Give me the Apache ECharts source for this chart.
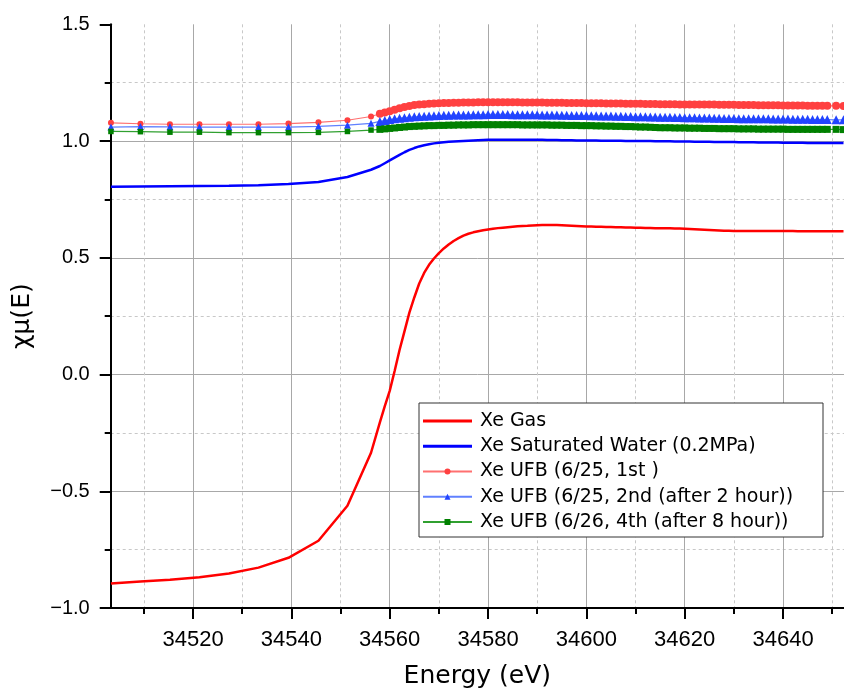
<!DOCTYPE html>
<html>
<head>
<meta charset="utf-8">
<script src="https://cdn.jsdelivr.net/npm/echarts@6/dist/echarts.min.js"></script>
<style>html,body{margin:0;padding:0;background:#fff;overflow:hidden;}#c{width:844px;height:694px;}</style>
</head>
<body>
<div id="c"></div>
<script>
// ---- data ----
const energy = [34503.3, 34509.3, 34515.3, 34521.3, 34527.3, 34533.3, 34539.4, 34545.5, 34551.4, 34556.2,
  34558, 34559, 34560, 34561, 34562, 34563, 34564, 34565, 34566, 34567, 34568, 34569, 34570, 34571, 34572, 34573, 34574, 34575, 34576, 34577, 34578, 34579, 34580,
  34581, 34582, 34583, 34584, 34585, 34586, 34587, 34588, 34589, 34590,
  34591, 34592, 34593, 34594, 34595, 34596, 34597, 34598, 34599, 34600,
  34601, 34602, 34603, 34604, 34605, 34606, 34607, 34608, 34609, 34610, 34611, 34612, 34613, 34614, 34615,
  34616, 34617, 34618, 34619, 34620, 34621, 34622, 34623, 34624, 34625, 34626, 34627, 34628, 34629, 34630, 34631, 34632, 34633, 34634, 34635, 34636,
  34637, 34638, 34639, 34640, 34641, 34642, 34643, 34644, 34645, 34646, 34647, 34648, 34649,
  34650.8, 34652.3];

const gasMu = [-0.895, -0.887, -0.879, -0.868, -0.852, -0.827, -0.785, -0.712, -0.562, -0.335,
  -0.205, -0.135, -0.070, 0.015, 0.105, 0.185, 0.265, 0.330, 0.390, 0.435, 0.470, 0.497, 0.520, 0.540, 0.557, 0.572, 0.584, 0.595, 0.603, 0.609, 0.614, 0.618, 0.621,
  0.624, 0.627, 0.629, 0.631, 0.633, 0.635, 0.636, 0.637, 0.638, 0.639,
  0.640, 0.640, 0.640, 0.640, 0.639, 0.638, 0.637, 0.636, 0.635, 0.634,
  0.634, 0.633, 0.633, 0.632, 0.632, 0.631, 0.631, 0.630, 0.630, 0.629, 0.629, 0.628, 0.628, 0.627, 0.627,
  0.626, 0.626, 0.625, 0.625, 0.624, 0.623, 0.622, 0.621, 0.620, 0.619, 0.618, 0.617, 0.616, 0.616, 0.615, 0.615, 0.615, 0.615, 0.615, 0.615, 0.615,
  0.615, 0.615, 0.615, 0.615, 0.615, 0.615, 0.614, 0.614, 0.614, 0.614, 0.614, 0.614, 0.614,
  0.614, 0.614];

const waterMu = [0.804, 0.805, 0.806, 0.807, 0.808, 0.811, 0.816, 0.825, 0.846, 0.877,
  0.893, 0.905, 0.917, 0.929, 0.941, 0.952, 0.962, 0.970, 0.977, 0.982, 0.986, 0.990, 0.993, 0.995, 0.997, 0.998, 0.999, 1.000, 1.001, 1.002, 1.003, 1.004, 1.005,
  1.005, 1.005, 1.005, 1.005, 1.005, 1.005, 1.005, 1.005, 1.005, 1.005,
  1.005, 1.004, 1.004, 1.004, 1.003, 1.003, 1.003, 1.002, 1.002, 1.002,
  1.002, 1.002, 1.001, 1.001, 1.001, 1.001, 1.001, 1.000, 1.000, 1.000, 1.000, 1.000, 1.000, 0.999, 0.999,
  0.999, 0.999, 0.998, 0.998, 0.998, 0.998, 0.997, 0.997, 0.997, 0.997, 0.996, 0.996, 0.996, 0.996, 0.996, 0.995, 0.995, 0.995, 0.995, 0.994, 0.994,
  0.994, 0.994, 0.994, 0.993, 0.993, 0.993, 0.993, 0.993, 0.992, 0.992, 0.992, 0.992, 0.992,
  0.992, 0.992];

const ufb1Mu = [1.078, 1.074, 1.072, 1.072, 1.072, 1.072, 1.075, 1.080, 1.089, 1.105,
  1.117, 1.122, 1.128, 1.134, 1.140, 1.146, 1.150, 1.154, 1.156, 1.158, 1.160, 1.161, 1.162, 1.163, 1.163, 1.164, 1.164, 1.165, 1.165, 1.165, 1.166, 1.166, 1.166,
  1.166, 1.166, 1.166, 1.166, 1.166, 1.166, 1.165, 1.165, 1.165, 1.165,
  1.165, 1.164, 1.164, 1.164, 1.164, 1.163, 1.163, 1.163, 1.163, 1.162,
  1.162, 1.162, 1.162, 1.161, 1.161, 1.161, 1.161, 1.160, 1.160, 1.160, 1.160, 1.159, 1.159, 1.159, 1.158,
  1.158, 1.158, 1.158, 1.157, 1.157, 1.157, 1.157, 1.156, 1.156, 1.156, 1.156, 1.155, 1.155, 1.155, 1.155, 1.154, 1.154, 1.154, 1.154, 1.153, 1.153,
  1.153, 1.153, 1.153, 1.152, 1.152, 1.152, 1.152, 1.152, 1.151, 1.151, 1.151, 1.151, 1.151,
  1.151, 1.150];

const ufb2Mu = [1.060, 1.062, 1.061, 1.060, 1.060, 1.060, 1.060, 1.063, 1.068, 1.076,
  1.084, 1.088, 1.092, 1.095, 1.098, 1.100, 1.102, 1.104, 1.105, 1.106, 1.107, 1.108, 1.109, 1.110, 1.110, 1.111, 1.111, 1.112, 1.112, 1.113, 1.113, 1.113, 1.114,
  1.114, 1.114, 1.114, 1.114, 1.113, 1.113, 1.113, 1.113, 1.113, 1.113,
  1.112, 1.112, 1.111, 1.111, 1.110, 1.110, 1.109, 1.109, 1.109, 1.109,
  1.108, 1.108, 1.107, 1.107, 1.107, 1.106, 1.106, 1.105, 1.105, 1.104, 1.104, 1.104, 1.103, 1.103, 1.102,
  1.102, 1.102, 1.101, 1.101, 1.100, 1.100, 1.100, 1.099, 1.099, 1.099, 1.098, 1.098, 1.097, 1.097, 1.097, 1.096, 1.096, 1.096, 1.095, 1.095, 1.095,
  1.095, 1.094, 1.094, 1.094, 1.094, 1.093, 1.093, 1.093, 1.093, 1.092, 1.092, 1.092, 1.092,
  1.091, 1.091];

const ufb3Mu = [1.041, 1.040, 1.038, 1.038, 1.036, 1.036, 1.036, 1.037, 1.041, 1.047,
  1.050, 1.052, 1.054, 1.056, 1.058, 1.060, 1.062, 1.063, 1.064, 1.065, 1.066, 1.066, 1.067, 1.067, 1.068, 1.068, 1.069, 1.069, 1.069, 1.070, 1.070, 1.070, 1.070,
  1.070, 1.070, 1.070, 1.070, 1.070, 1.070, 1.069, 1.069, 1.069, 1.069,
  1.069, 1.069, 1.068, 1.068, 1.068, 1.067, 1.067, 1.067, 1.066, 1.066,
  1.066, 1.065, 1.065, 1.064, 1.064, 1.063, 1.063, 1.062, 1.062, 1.061, 1.060, 1.060, 1.059, 1.058, 1.057,
  1.057, 1.057, 1.056, 1.056, 1.056, 1.055, 1.055, 1.055, 1.054, 1.054, 1.054, 1.053, 1.053, 1.053, 1.053, 1.052, 1.052, 1.052, 1.052, 1.051, 1.051,
  1.051, 1.051, 1.051, 1.051, 1.050, 1.050, 1.050, 1.050, 1.050, 1.050, 1.050, 1.050, 1.050,
  1.050, 1.049];

const seriesNames = ['Xe Gas', 'Xe Saturated Water (0.2MPa)', 'Xe UFB (6/25, 1st )',
  'Xe UFB (6/25, 2nd (after 2 hour))', 'Xe UFB (6/26, 4th (after 8 hour))'];

const xMin = 34503.25, xMax = 34652.4;
const xMajorTicks = [34520, 34540, 34560, 34580, 34600, 34620, 34640];
const xMinorTicks = [34510, 34530, 34550, 34570, 34590, 34610, 34630, 34650];
const yMin = -1.0, yMax = 1.5, yStep = 0.5;
const xTitle = 'Energy (eV)';
const yTitle = 'χμ(E)';

// ---- chart ----
function pairs(ys) { return energy.map((e, i) => [e, ys[i]]); }
const lineLegendIcon = 'path://M0,0H50V3H0Z';
const denseFrom = 34557;

const chart = echarts.init(document.getElementById('c'), null, {renderer: 'canvas', width: 844, height: 694});
const labelFont = 'Liberation Sans';
const textFont = 'DejaVu Sans';

chart.setOption({
  animation: false,
  backgroundColor: '#fff',
  grid: {left: 110.7, right: 0, top: 24.3, bottom: 82.7, containLabel: false},
  legend: {
    orient: 'vertical', left: 419, top: 403,
    padding: [8, 5, 5, 3],
    itemWidth: 49, itemHeight: 7.5, itemGap: 5.25,
    backgroundColor: '#fff', borderColor: '#333', borderWidth: 1,
    textStyle: {fontFamily: textFont, fontSize: 19, color: '#000', lineHeight: 20, padding: [0, 0, 0, 3], width: 338},
    data: [
      {name: seriesNames[0], icon: lineLegendIcon},
      {name: seriesNames[1], icon: lineLegendIcon},
      {name: seriesNames[2]},
      {name: seriesNames[3]},
      {name: seriesNames[4]}
    ],
    z: 10
  },
  xAxis: [{
    type: 'value', min: xMin, max: xMax, position: 'bottom',
    axisLine: {show: true, onZero: false, lineStyle: {color: '#000', width: 2}},
    axisTick: {show: true, inside: false, length: 6, customValues: xMinorTicks, lineStyle: {color: '#000', width: 2}},
    axisLabel: {show: false},
    splitLine: {show: true, lineStyle: {color: '#c8c8c8', type: [3, 3], width: 1}},
    name: xTitle, nameLocation: 'middle', nameGap: 56,
    nameTextStyle: {fontFamily: textFont, fontSize: 25, color: '#000'}
  }, {
    type: 'value', min: xMin, max: xMax, position: 'bottom',
    axisLine: {show: false, onZero: false},
    axisTick: {show: true, inside: false, length: 11, customValues: xMajorTicks, lineStyle: {color: '#000', width: 2}},
    axisLabel: {show: true, customValues: xMajorTicks, margin: 21, fontFamily: labelFont, fontSize: 22, color: '#000',
      formatter: v => String(v)},
    splitLine: {show: true, lineStyle: {color: '#a8a8a8', width: 1}}
  }],
  yAxis: {
    type: 'value', min: yMin, max: yMax, interval: yStep,
    axisLine: {show: true, onZero: false, lineStyle: {color: '#000', width: 2}},
    axisTick: {show: true, inside: false, length: 11, lineStyle: {color: '#000', width: 2}},
    minorTick: {show: true, splitNumber: 2, length: 6, lineStyle: {color: '#000', width: 2}},
    axisLabel: {margin: 21, fontFamily: labelFont, fontSize: 20, color: '#000',
      formatter: v => (v < 0 ? '\u2212' : '') + Math.abs(v).toFixed(1)},
    splitLine: {show: true, showMinLine: false, showMaxLine: false, lineStyle: {color: '#a8a8a8', width: 1}},
    minorSplitLine: {show: true, lineStyle: {color: '#c8c8c8', type: [3, 3], width: 1}},
    name: yTitle, nameLocation: 'middle', nameGap: 76,
    nameTextStyle: {fontFamily: textFont, fontSize: 25, color: '#000'}
  },
  series: [
    {name: seriesNames[0], type: 'line', xAxisIndex: 0, data: pairs(gasMu), showSymbol: false, symbol: 'none',
      lineStyle: {color: '#ff0000', width: 2.5}, itemStyle: {color: '#ff0000'}, z: 3},
    {name: seriesNames[1], type: 'line', xAxisIndex: 0, data: pairs(waterMu), showSymbol: false, symbol: 'none',
      lineStyle: {color: '#0000ff', width: 2.5}, itemStyle: {color: '#0000ff'}, z: 3},
    {name: seriesNames[2], type: 'line', xAxisIndex: 0, data: pairs(ufb1Mu), symbol: 'circle',
      symbolSize: v => v[0] > denseFrom ? 8 : 6,
      lineStyle: {color: '#ff7070', width: 1.2}, itemStyle: {color: '#ff4040'}, z: 4},
    {name: seriesNames[3], type: 'line', xAxisIndex: 0, data: pairs(ufb2Mu), symbol: 'triangle',
      symbolSize: v => v[0] > denseFrom ? 9 : 7,
      lineStyle: {color: '#6080ff', width: 1.2}, itemStyle: {color: '#2244ff'}, z: 4},
    {name: seriesNames[4], type: 'line', xAxisIndex: 0, data: pairs(ufb3Mu), symbol: 'rect',
      symbolSize: v => v[0] > denseFrom ? 7 : 5.5,
      lineStyle: {color: '#30a030', width: 1.2}, itemStyle: {color: '#008000'}, z: 4}
  ]
});
</script>
</body>
</html>
